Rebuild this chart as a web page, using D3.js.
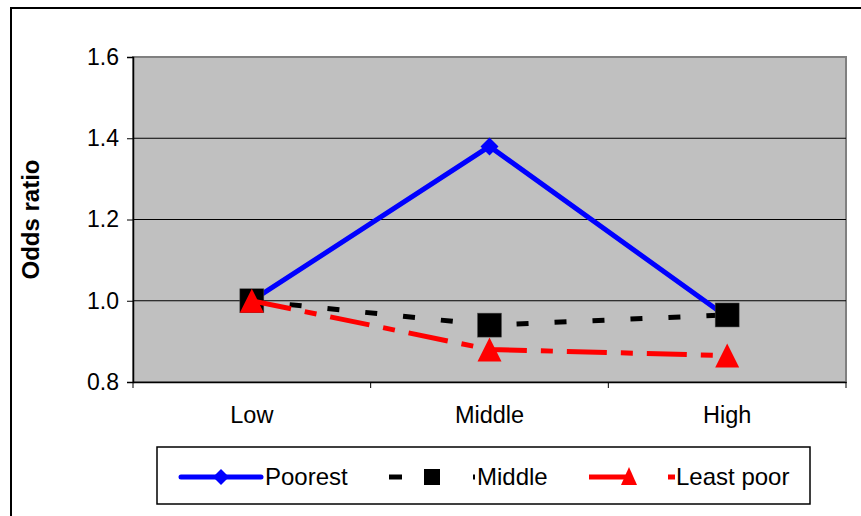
<!DOCTYPE html>
<html>
<head>
<meta charset="utf-8">
<script src="https://cdn.jsdelivr.net/npm/d3@7"></script>
<style>
  body { margin: 0; background: #fff; }
  svg { display: block; font-family: Arial, "Liberation Sans", sans-serif; }
</style>
</head>
<body>
<svg id="chart" width="861" height="516"></svg>
<script>
const categories = ["Low", "Middle", "High"];
const poorest = [1.0, 1.38, 0.96];
const middle = [1.0, 0.94, 0.965];
const leastPoor = [1.0, 0.88, 0.865];
const yTicks = [0.8, 1.0, 1.2, 1.4, 1.6];

const series = [
  { name: "Poorest", values: poorest, color: "#0000ff", dash: null, marker: "diamond" },
  { name: "Middle", values: middle, color: "#000000", dash: "12,26", marker: "square" },
  { name: "Least poor", values: leastPoor, color: "#ff0000", dash: "40,14,12,14", marker: "triangle" }
];

const svg = d3.select("#chart");
const plot = { left: 133, top: 57, right: 846, bottom: 382 };

// outer chart border
svg.append("rect")
  .attr("x", 11).attr("y", 8)
  .attr("width", 870).attr("height", 530)
  .attr("fill", "#fff").attr("stroke", "#000").attr("stroke-width", 2);

const x = d3.scaleBand().domain(categories).range([plot.left, plot.right]);
const y = d3.scaleLinear().domain([0.8, 1.6]).range([plot.bottom, plot.top]);

// plot area
svg.append("rect")
  .attr("x", plot.left).attr("y", plot.top)
  .attr("width", plot.right - plot.left).attr("height", plot.bottom - plot.top)
  .attr("fill", "#c0c0c0").attr("stroke", "#808080").attr("stroke-width", 2);

// gridlines
svg.append("g")
  .selectAll("line")
  .data(yTicks.filter((d) => d > 0.8 && d < 1.6))
  .join("line")
  .attr("x1", plot.left).attr("x2", plot.right)
  .attr("y1", (d) => y(d)).attr("y2", (d) => y(d))
  .attr("stroke", "#000").attr("stroke-width", 1);

// y axis
const yAxis = svg.append("g")
  .attr("transform", `translate(${plot.left},0)`)
  .call(d3.axisLeft(y).tickValues(yTicks).tickFormat(d3.format(".1f")).tickSize(6).tickPadding(8));
yAxis.select(".domain").attr("stroke", "#000").attr("stroke-width", 1.5);
yAxis.selectAll("text").style("font-size", "23px").attr("fill", "#000");

// x axis
const xAxis = svg.append("g")
  .attr("transform", `translate(0,${plot.bottom})`)
  .call(d3.axisBottom(x).tickSize(0).tickPadding(24));
xAxis.select(".domain").attr("stroke", "#000").attr("stroke-width", 1.5);
xAxis.selectAll("text").style("font-size", "23.5px").attr("fill", "#000");
xAxis.selectAll(".boundary")
  .data(categories.map((c) => x(c)).concat([plot.right]))
  .join("line")
  .attr("x1", (d) => d).attr("x2", (d) => d)
  .attr("y1", 0).attr("y2", 6)
  .attr("stroke", "#000");

// axis title
svg.append("text")
  .attr("transform", `translate(39,${(plot.top + plot.bottom) / 2}) rotate(-90)`)
  .attr("text-anchor", "middle")
  .style("font-size", "24px").attr("font-weight", "bold")
  .text("Odds ratio");

const cx = (c) => x(c) + x.bandwidth() / 2;
const line = d3.line().x((d, i) => cx(categories[i])).y((d) => y(d));

function drawMarker(g, type, color) {
  if (type === "diamond") {
    g.append("path").attr("d", "M0,-9L9,0L0,9L-9,0Z").attr("fill", color);
  } else if (type === "square") {
    g.append("rect").attr("x", -12).attr("y", -12).attr("width", 24).attr("height", 24)
      .attr("fill", color).attr("stroke", "#555").attr("stroke-width", 0.5);
  } else {
    g.append("path").attr("d", "M0,-12L12,12L-12,12Z").attr("fill", color);
  }
}

series.forEach((s) => {
  svg.append("path")
    .datum(s.values)
    .attr("d", line)
    .attr("fill", "none")
    .attr("stroke", s.color)
    .attr("stroke-width", 5)
    .attr("stroke-dasharray", s.dash);
  s.values.forEach((v, i) => {
    const g = svg.append("g").attr("transform", `translate(${cx(categories[i])},${y(v)})`);
    drawMarker(g, s.marker, s.color);
  });
});

// legend
const legend = svg.append("g");
legend.append("rect")
  .attr("x", 157).attr("y", 447).attr("width", 653).attr("height", 57)
  .attr("fill", "#fff").attr("stroke", "#000").attr("stroke-width", 1.5);

const legendX = [181, 393, 589];
series.forEach((s, i) => {
  const g = legend.append("g").attr("transform", `translate(${legendX[i]},477)`);
  if (s.marker === "diamond") {
    g.append("line").attr("x1", 0).attr("x2", 80).attr("stroke", s.color).attr("stroke-width", 5)
      .attr("stroke-linecap", "round");
  } else if (s.marker === "square") {
    g.append("line").attr("x1", -4).attr("x2", 9).attr("stroke", s.color).attr("stroke-width", 5);
    g.append("line").attr("x1", 80).attr("x2", 82).attr("stroke", s.color).attr("stroke-width", 5);
  } else {
    g.append("line").attr("x1", 0).attr("x2", 40).attr("stroke", s.color).attr("stroke-width", 5);
    g.append("line").attr("x1", 79).attr("x2", 86).attr("stroke", s.color).attr("stroke-width", 5);
  }
  const m = g.append("g").attr("transform", `translate(${s.marker === "square" ? 39 : 40},0)`);
  if (s.marker === "square") {
    m.append("rect").attr("x", -8).attr("y", -8).attr("width", 16).attr("height", 16).attr("fill", s.color);
  } else if (s.marker === "diamond") {
    m.append("path").attr("d", "M0,-8L8,0L0,8L-8,0Z").attr("fill", s.color);
  } else {
    m.append("path").attr("d", "M0,-10L8,8L-8,8Z").attr("fill", s.color);
  }
  g.append("text")
    .attr("x", s.marker === "triangle" ? 87 : 84)
    .attr("y", 8)
    .style("font-size", "24px")
    .text(s.name);
});
</script>
</body>
</html>
